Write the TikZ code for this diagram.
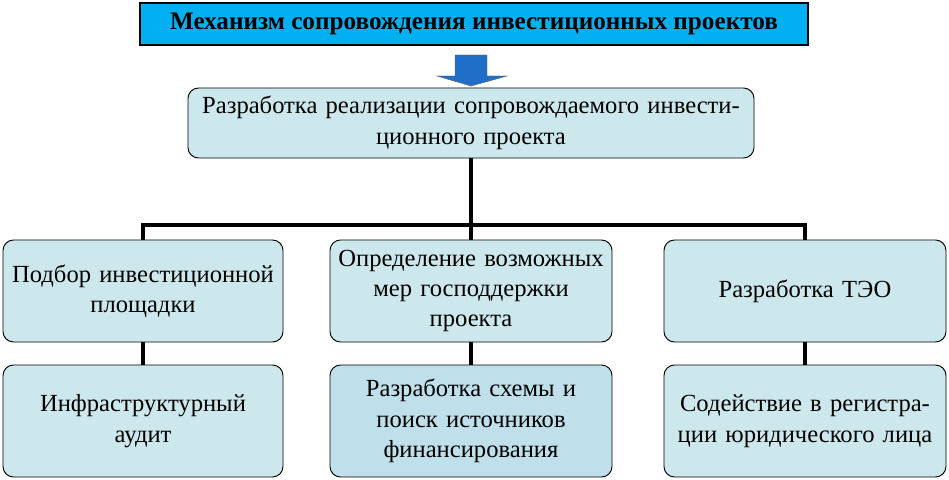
\documentclass[tikz,border=0pt]{standalone}
\usepackage{fontspec}
\setmainfont{Liberation Serif}
\definecolor{titleblue}{HTML}{00B0F0}
\definecolor{arrowblue}{HTML}{1F6FC8}
\definecolor{boxteal}{HTML}{CDE8EC}
\definecolor{boxblue}{HTML}{BFE0EA}
\tikzset{
  stage/.style={draw=black, line width=0.8pt, rounded corners=9pt, fill=boxteal,
    align=center, inner sep=0pt, font=\fontsize{21}{26}\selectfont},
  link/.style={line width=3pt}
}
\begin{document}
\begin{tikzpicture}[x=0.03cm,y=-0.03cm]
\useasboundingbox (0,0) rectangle (949,480);
% title and arrow
\node[draw, line width=1pt, fill=titleblue, minimum width=668*0.03cm, minimum height=42*0.03cm,
  font=\fontsize{21.5}{24}\selectfont\bfseries] (title) at (474,24) {Механизм сопровождения инвестиционных проектов};
\fill[arrowblue, draw=black!60] (455,55) -- (487,55) -- (487,76) -- (507,76) -- (471,86) -- (437,76) -- (455,76) -- cycle;
% main box
\node[stage, minimum width=566*0.03cm, minimum height=70*0.03cm, text width=556*0.03cm] (main) at (471,123)
  {Разработка реализации сопровождаемого инвести-\\ционного проекта};
% first row
\node[stage, minimum width=280*0.03cm, minimum height=102*0.03cm, text width=278*0.03cm] (site) at (143,291) {Подбор инвестиционной\\площадки};
\node[stage, minimum width=282*0.03cm, minimum height=102*0.03cm, text width=278*0.03cm] (aid) at (471,291) {Определение возможных\\мер господдержки\\проекта};
\node[stage, minimum width=282*0.03cm, minimum height=102*0.03cm, text width=278*0.03cm] (teo) at (805,291) {Разработка ТЭО};
% second row
\node[stage, minimum width=280*0.03cm, minimum height=112*0.03cm, text width=278*0.03cm] (audit) at (143,421) {Инфраструктурный\\аудит};
\node[stage, fill=boxblue, minimum width=282*0.03cm, minimum height=112*0.03cm, text width=278*0.03cm] (fin) at (471,421) {Разработка схемы и\\поиск источников\\финансирования};
\node[stage, minimum width=282*0.03cm, minimum height=112*0.03cm, text width=278*0.03cm] (reg) at (805,421) {Содействие в регистра-\\ции юридического лица};
% connectors
\coordinate (fork) at (471,225);
\draw[link] (main.south) -- (fork);
\draw[link] (site.north) |- (fork) -| (teo.north);
\draw[link] (fork) -- (aid.north);
\draw[link] (site) -- (audit);
\draw[link] (aid) -- (fin);
\draw[link] (teo) -- (reg);
\end{tikzpicture}
\end{document}
